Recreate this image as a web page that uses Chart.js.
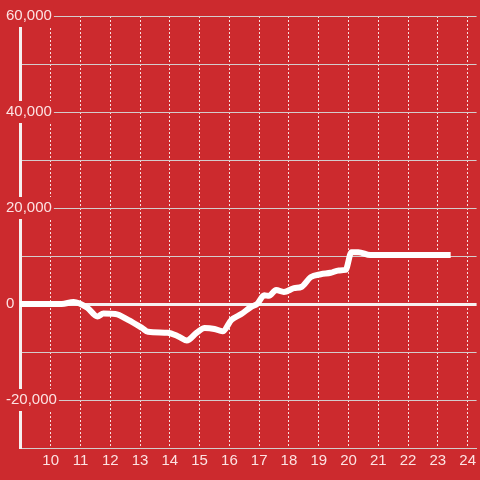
<!DOCTYPE html>
<html>
<head>
<meta charset="utf-8">
<script src="https://cdn.jsdelivr.net/npm/chart.js@4/dist/chart.umd.min.js"></script>
<style>
  html, body { margin: 0; padding: 0; background: #cc2a2e; }
  #wrap { width: 480px; height: 480px; }
</style>
</head>
<body>
<div id="wrap"><canvas id="chart" width="480" height="480"></canvas></div>
<script>
var hours = [8.97, 10.37, 10.77, 11.23, 11.57, 11.77, 12.17, 12.6, 13.07, 13.27, 13.93, 14.27, 14.57,
    14.9, 15.17, 15.5, 15.77, 16.07, 16.4, 16.73, 16.93, 17.17, 17.33, 17.57, 17.83, 18.17, 18.43,
    18.73, 19.07, 19.4, 19.67, 19.9, 20.1, 20.33, 20.73, 23.43];
var values = [0, 0, 400, -800, -2600, -2000, -2100, -3300, -5000, -5800, -6000, -6700, -7600,
    -6000, -5000, -5200, -5700, -3300, -2100, -600, 0, 1800, 1700, 2900, 2500, 3300, 3600,
    5600, 6200, 6500, 7000, 7100, 10800, 10800, 10200, 10200];

var xTicks = [10, 11, 12, 13, 14, 15, 16, 17, 18, 19, 20, 21, 22, 23, 24];
var xLabels = ["10", "11", "12", "13", "14", "15", "16", "17", "18", "19", "20", "21", "22", "23", "24"];
var yTicks = [-30000, -20000, -10000, 0, 10000, 20000, 30000, 40000, 50000, 60000];
var yLabeled = [-20000, 0, 20000, 40000, 60000];

var red = "#cc2a2e";
var textColor = "rgba(255, 236, 236, 0.95)";

var points = hours.map(function (h, i) { return { x: h, y: values[i] }; });

new Chart(document.getElementById("chart").getContext("2d"), {
    type: "line",
    data: {
        datasets: [{
            data: points,
            borderColor: "#ffffff",
            borderWidth: 6,
            borderCapStyle: "butt",
            cubicInterpolationMode: "monotone",
            pointRadius: 0,
            fill: false
        }]
    },
    options: {
        responsive: false,
        animation: false,
        layout: { padding: { left: 5, right: 0, top: 16, bottom: 6 } },
        plugins: {
            legend: { display: false },
            tooltip: { enabled: false }
        },
        scales: {
            x: {
                type: "linear",
                min: 8.97,
                max: 24.3,
                afterBuildTicks: function (scale) {
                    scale.ticks = xTicks.map(function (v) { return { value: v }; });
                },
                ticks: {
                    color: textColor,
                    font: { family: "Liberation Sans, Arial", size: 15 },
                    padding: 4,
                    maxRotation: 0,
                    autoSkip: false,
                    callback: function (v) {
                        var i = xTicks.indexOf(v);
                        return i < 0 ? "" : xLabels[i];
                    }
                },
                grid: {
                    color: "rgba(255, 255, 255, 0.85)",
                    lineWidth: 1,
                    drawTicks: false
                },
                border: {
                    display: true,
                    color: "#d4cccc",
                    width: 1,
                    dash: [2, 2]
                }
            },
            y: {
                min: -30000,
                max: 60000,
                afterBuildTicks: function (scale) {
                    scale.ticks = yTicks.map(function (v) { return { value: v }; });
                },
                afterFit: function (scale) { scale.width = 15; },
                ticks: {
                    color: textColor,
                    font: { family: "Liberation Sans, Arial", size: 15 },
                    mirror: true,
                    crossAlign: "near",
                    padding: -14,
                    autoSkip: false,
                    showLabelBackdrop: function (ctx) { return yLabeled.indexOf(ctx.tick.value) >= 0; },
                    backdropColor: red,
                    backdropPadding: 2,
                    callback: function (v) {
                        return yLabeled.indexOf(v) >= 0 ? v.toLocaleString("en-US") : "";
                    }
                },
                grid: {
                    color: function (ctx) { return ctx.tick && ctx.tick.value === 0 ? "#f6f0f0" : "#d4cccc"; },
                    lineWidth: function (ctx) { return ctx.tick && ctx.tick.value === 0 ? 3 : 1; },
                    drawTicks: false
                },
                border: {
                    display: true,
                    color: "#f6f0f0",
                    width: 3
                }
            }
        }
    },
    plugins: [{
        id: "bg",
        beforeDraw: function (chart) {
            var c = chart.ctx;
            c.save();
            c.fillStyle = red;
            c.fillRect(0, 0, chart.width, chart.height);
            c.restore();
        }
    }]
});
</script>
</body>
</html>
